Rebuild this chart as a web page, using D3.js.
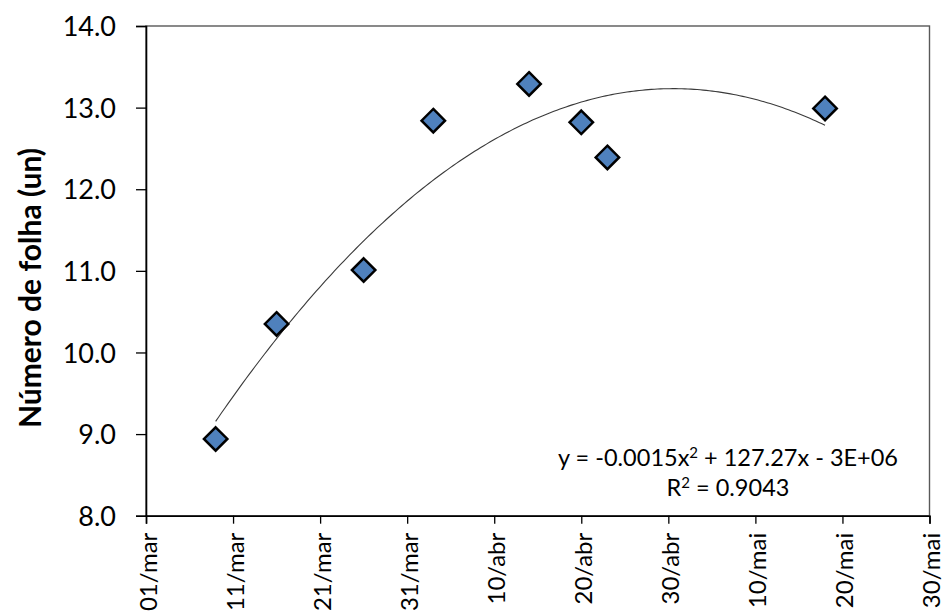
<!DOCTYPE html>
<html>
<head>
<meta charset="utf-8">
<script src="https://cdn.jsdelivr.net/npm/d3@7"></script>
<style>
  html, body { margin: 0; padding: 0; background: #fff; }
  svg { display: block; }
  text { font-family: Lato, "Open Sans", sans-serif; fill: #000; }
</style>
</head>
<body>
<svg id="chart" width="942" height="611"></svg>
<script>
// ---- data ----
const dates = ["2016-03-09", "2016-03-16", "2016-03-26", "2016-04-03", "2016-04-14", "2016-04-20", "2016-04-23", "2016-05-18"];
const leaves = [8.94, 10.35, 11.01, 12.84, 13.29, 12.82, 12.39, 12.99];
const xTickDates = ["2016-03-01", "2016-03-11", "2016-03-21", "2016-03-31", "2016-04-10", "2016-04-20", "2016-04-30", "2016-05-10", "2016-05-20", "2016-05-30"];
const xTickLabels = ["01/mar", "11/mar", "21/mar", "31/mar", "10/abr", "20/abr", "30/abr", "10/mai", "20/mai", "30/mai"];
const yTicks = [8, 9, 10, 11, 12, 13, 14];
const yTitle = "Número de folha (un)";
const eqLine1 = ["y = -0.0015x", "2", " + 127.27x - 3E+06"];
const eqLine2 = ["R", "2", " = 0.9043"];

const parse = d3.utcParse("%Y-%m-%d");
const pts = dates.map((d, i) => ({ date: parse(d), v: leaves[i] }));

const svg = d3.select("#chart");
const L = 146, T = 26, R = 929.5, B = 515.7;

const x = d3.scaleUtc().domain([parse(xTickDates[0]), parse(xTickDates[xTickDates.length - 1])]).range([L, R]);
const y = d3.scaleLinear().domain([8, 14]).range([B, T]);

// plot border
svg.append("rect").attr("x", L).attr("y", T).attr("width", R - L).attr("height", B - T)
  .attr("fill", "none").attr("stroke", "#595959").attr("stroke-width", 1.4);

// y axis
const yAxis = d3.axisLeft(y).tickValues(yTicks).tickFormat(d3.format(".1f")).tickSize(10).tickPadding(20);
const gy = svg.append("g").attr("transform", `translate(${L},0)`).call(yAxis);
gy.select(".domain").attr("stroke", "#000").attr("stroke-width", 1.6);
gy.selectAll(".tick line").attr("stroke", "#000").attr("stroke-width", 1.3);
gy.selectAll(".tick text").style("font-size", "27px").attr("fill", "#000").attr("dy", "0.36em");

// x axis
const xAxis = d3.axisBottom(x).tickValues(xTickDates.map(parse))
  .tickFormat((d, i) => xTickLabels[i]).tickSize(8).tickPadding(0);
const gx = svg.append("g").attr("transform", `translate(0,${B})`).call(xAxis);
gx.select(".domain").attr("stroke", "#000").attr("stroke-width", 1.6);
gx.selectAll(".tick line").attr("stroke", "#000").attr("stroke-width", 1.3);
gx.selectAll(".tick text").style("font-size", "24px").attr("fill", "#000")
  .attr("text-anchor", "end").attr("dy", null).attr("y", 0)
  .attr("transform", "translate(10,17) rotate(-90)");

// y title
svg.append("text").attr("transform", `translate(41,288) rotate(-90)`)
  .attr("text-anchor", "middle").style("font-size", "30px").style("font-weight", "bold")
  .text(yTitle);

// polynomial (order 2) trendline via least squares
const t0 = pts[0].date.getTime();
const day = 86400000;
const xs = pts.map(p => (p.date.getTime() - t0) / day);
const ys = pts.map(p => p.v);
const S = k => d3.sum(xs, v => Math.pow(v, k));
const Sy = k => d3.sum(xs.map((v, i) => Math.pow(v, k) * ys[i]));
const M = [[S(0), S(1), S(2)], [S(1), S(2), S(3)], [S(2), S(3), S(4)]];
const V = [Sy(0), Sy(1), Sy(2)];
function solve3(A, b) {
  const m = A.map((r, i) => [...r, b[i]]);
  for (let c = 0; c < 3; c++) {
    let p = c;
    for (let r = c + 1; r < 3; r++) if (Math.abs(m[r][c]) > Math.abs(m[p][c])) p = r;
    [m[c], m[p]] = [m[p], m[c]];
    for (let r = 0; r < 3; r++) if (r !== c) {
      const f = m[r][c] / m[c][c];
      for (let k = c; k < 4; k++) m[r][k] -= f * m[c][k];
    }
  }
  return m.map((r, i) => r[3] / r[i]);
}
const coef = solve3(M, V);
const xmin = d3.min(xs), xmax = d3.max(xs);
const curve = d3.range(0, 201).map(i => {
  const t = xmin + (xmax - xmin) * i / 200;
  return [new Date(t0 + t * day), coef[0] + coef[1] * t + coef[2] * t * t];
});
svg.append("path").datum(curve)
  .attr("d", d3.line().x(d => x(d[0])).y(d => y(d[1])))
  .attr("fill", "none").attr("stroke", "#3a3a3a").attr("stroke-width", 1.1);

// markers
const sym = d3.symbol().type(d3.symbolDiamond2).size(350);
svg.append("g").selectAll("path").data(pts).join("path")
  .attr("d", sym)
  .attr("transform", d => `translate(${x(d.date)},${y(d.v)})`)
  .attr("fill", "#4F81BD").attr("stroke", "#000").attr("stroke-width", 2.5);

// equation text
const eq = svg.append("g").style("font-size", "23.5px");
function eqText(parts, cx, by) {
  const t = eq.append("text").attr("x", cx).attr("y", by).attr("text-anchor", "middle");
  t.append("tspan").text(parts[0]);
  t.append("tspan").attr("dy", -8).style("font-size", "15px").text(parts[1]);
  t.append("tspan").attr("dy", 8).text(parts[2]);
}
eqText(eqLine1, 728, 466);
eqText(eqLine2, 728, 496);
</script>
</body>
</html>
